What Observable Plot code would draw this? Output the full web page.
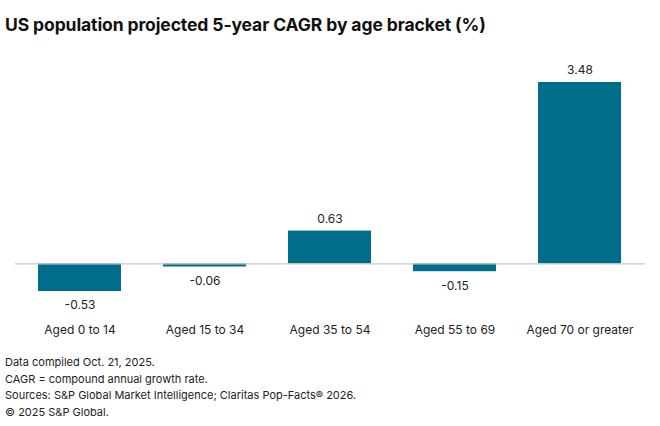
<!DOCTYPE html>
<html>
<head>
<meta charset="utf-8">
<script src="https://cdn.jsdelivr.net/npm/d3@7"></script>
<script src="https://cdn.jsdelivr.net/npm/@observablehq/plot@0.6"></script>
<style>
  body { margin: 0; background: #fff; font-family: Inter, "Noto Sans", sans-serif; }
  #wrap { width: 660px; }
  h1 { margin: 0; padding: 14px 0 0 5px; height: 26px; font-size: 17.5px; font-weight: 700; color: #111; letter-spacing: -0.1px; }
  #foot { padding: 0 0 0 5px; font-size: 11px; line-height: 16.7px; color: #222; margin-top: 4px; }
</style>
</head>
<body>
<div id="wrap">
  <h1>US population projected 5-year CAGR by age bracket (%)</h1>
  <div id="chart"></div>
  <div id="foot">
    <div>Data compiled Oct. 21, 2025.</div>
    <div>CAGR = compound annual growth rate.</div>
    <div>Sources: S&amp;P Global Market Intelligence; Claritas Pop-Facts® 2026.</div>
    <div>© 2025 S&amp;P Global.</div>
  </div>
</div>
<script>
const categories = ["Aged 0 to 14", "Aged 15 to 34", "Aged 35 to 54", "Aged 55 to 69", "Aged 70 or greater"];
const values = [-0.53, -0.06, 0.63, -0.15, 3.48];
const data = categories.map((c, i) => ({category: c, value: values[i]}));

const chart = Plot.plot({
  width: 660,
  height: 310,
  marginLeft: 15,
  marginRight: 15,
  marginTop: 42,
  marginBottom: 59,
  style: {fontFamily: "Inter, 'Noto Sans', sans-serif", fontSize: "12px", color: "#222"},
  x: {domain: categories, paddingInner: 0.333, paddingOuter: 0.1667, label: null, tickSize: 0, tickPadding: 34},
  y: {domain: [-0.53, 3.48], axis: null},
  marks: [
    Plot.barY(data, {x: "category", y: "value", fill: "#006d8a"}),
    Plot.ruleY([0], {stroke: "#c8c8c8", strokeWidth: 1.2}),
    Plot.text(data.filter(d => d.value >= 0), {x: "category", y: "value", text: d => d.value.toFixed(2), dy: -12, fill: "#222", fontSize: 12}),
    Plot.text(data.filter(d => d.value < 0), {x: "category", y: "value", text: d => d.value.toFixed(2), dy: 14, fill: "#222", fontSize: 12})
  ]
});
document.getElementById("chart").appendChild(chart);
</script>
</body>
</html>
